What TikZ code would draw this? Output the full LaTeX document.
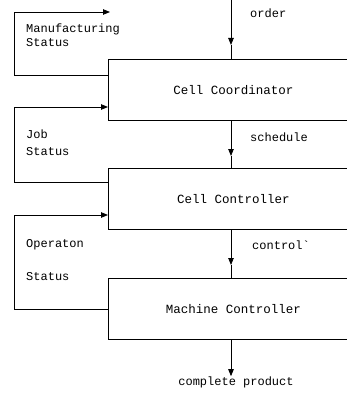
\documentclass[tikz,border=0pt]{standalone}
\usepackage{fontspec}
\setmonofont{Liberation Mono}
\usetikzlibrary{arrows.meta}
\tikzset{
  lbl/.style={font=\ttfamily\fontsize{12}{14}\selectfont, inner sep=0pt, anchor=west},
  blk/.style={draw, line width=0.8pt, minimum width=250pt, minimum height=61pt, inner sep=0pt, font=\ttfamily\fontsize{12.5}{14}\selectfont},
  ln/.style={line width=0.8pt},
  arr/.style={ln, -{Triangle[length=7pt,width=5.5pt]}}
}
\begin{document}
\begin{tikzpicture}[x=1pt,y=-1pt]
\useasboundingbox (0,0) rectangle (347,396);
\clip (0,0) rectangle (347,396);
% blocks
\node[blk, anchor=north west] (cc) at (108,59) {Cell Coordinator};
\node[blk, anchor=north west] (ctl) at (108,168) {Cell Controller};
\node[blk, anchor=north west] (mc) at (108,278) {Machine Controller};
% labels
\node[lbl] (ord) at (250,13) {order};
\node[lbl] (sch) at (250,137) {schedule};
\node[lbl] (con) at (252,245) {control\char"60};
\node[lbl] (mf1) at (26,29) {Manufacturing};
\node[lbl] (mf2) at (26,43) {Status};
\node[lbl] (jb1) at (26,134) {Job};
\node[lbl] (jb2) at (26,152) {Status};
\node[lbl] (op1) at (26,245) {Operaton};
\node[lbl] (op2) at (26,277) {Status};
\node[lbl, anchor=center] (cp) at (236,382) {complete product};
% coordinates
\coordinate (o0) at (231,0);
\coordinate (o1) at (231,45);
\coordinate (s1) at (231,156);
\coordinate (c1) at (231,265);
\coordinate (mfend) at (110,12);
% downward flow
\draw[arr] (o0) -- (o1);
\draw[ln] (o1) -- (o1 |- cc.north);
\draw[arr] (cc.south -| o0) -- (s1);
\draw[ln] (s1) -- (s1 |- ctl.north);
\draw[arr] (ctl.south -| o0) -- (c1);
\draw[ln] (c1) -- (c1 |- mc.north);
\draw[arr] (mc.south -| o0) -- (cp.north -| o0);
% feedback loops
\draw[arr] (cc.west |- 0,75) -- (14,75) -- (14,12) -- (mfend);
\draw[arr] (ctl.west |- 0,182) -- (14,182) -- (14,107) -- (cc.west |- 0,107);
\draw[arr] (mc.west |- 0,309) -- (14,309) -- (14,215) -- (ctl.west |- 0,215);
\end{tikzpicture}
\end{document}
